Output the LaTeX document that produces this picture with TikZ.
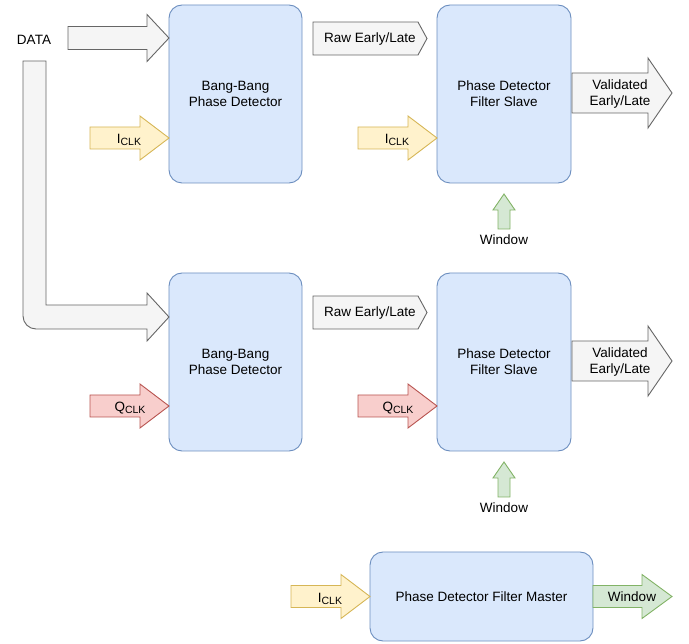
\documentclass[tikz,border=0pt]{standalone}
\usepackage{fontspec}
\setmainfont{Liberation Sans}
\definecolor{boxfill}{HTML}{DAE8FC}
\definecolor{boxdraw}{HTML}{6C8EBF}
\definecolor{grayfill}{HTML}{F5F5F5}
\definecolor{graydraw}{HTML}{666666}
\definecolor{yelfill}{HTML}{FFF2CC}
\definecolor{yeldraw}{HTML}{D6B656}
\definecolor{redfill}{HTML}{F8CECC}
\definecolor{reddraw}{HTML}{B85450}
\definecolor{grnfill}{HTML}{D5E8D4}
\definecolor{grndraw}{HTML}{82B366}
\newcommand{\clk}[1]{#1\raisebox{-0.35ex}{\fontsize{10.5}{12}\selectfont CLK}}
\tikzset{
  blockbox/.style={draw=boxdraw, fill=boxfill, rounded corners=13pt, line width=0.9pt, align=center, font=\fontsize{13.5}{16}\selectfont, inner sep=0pt},
  grayarrow/.style={draw=graydraw, fill=grayfill, line width=0.9pt, line join=miter},
  yelarrow/.style={draw=yeldraw, fill=yelfill, line width=0.9pt},
  redarrow/.style={draw=reddraw, fill=redfill, line width=0.9pt},
  grnarrow/.style={draw=grndraw, fill=grnfill, line width=0.9pt},
  lbl/.style={font=\fontsize{13.5}{16}\selectfont, align=center, inner sep=0pt},
}
% right block arrow: style, x1, x2, yc, body half, head half, head length
\newcommand{\rarrow}[7]{%
  \path[#1] (#2,#4-#5) -- (#3-#7,#4-#5) -- (#3-#7,#4-#6) -- (#3,#4) -- (#3-#7,#4+#6) -- (#3-#7,#4+#5) -- (#2,#4+#5) -- cycle;}
% up block arrow: style, xc, ytip, ybase, ybottom, head half, body half
\newcommand{\uarrow}[7]{%
  \path[#1] (#2,#3) -- (#2+#6,#4) -- (#2+#7,#4) -- (#2+#7,#5) -- (#2-#7,#5) -- (#2-#7,#4) -- (#2-#6,#4) -- cycle;}
\begin{document}
\begin{tikzpicture}[x=1pt,y=-1pt]
\useasboundingbox (0,0) rectangle (689,644);

% boxes
\node[blockbox, minimum width=133pt, minimum height=178pt] (bb1) at (235.5,94) {Bang-Bang\\Phase Detector};
\node[blockbox, minimum width=134pt, minimum height=178pt] (fs1) at (504,94) {Phase Detector\\Filter Slave};
\node[blockbox, minimum width=133pt, minimum height=178pt] (bb2) at (235.5,362) {Bang-Bang\\Phase Detector};
\node[blockbox, minimum width=134pt, minimum height=178pt] (fs2) at (504,362) {Phase Detector\\Filter Slave};
\node[blockbox, minimum width=223pt, minimum height=89pt] (fm) at (481.5,596.5) {Phase Detector Filter Master};

% DATA
\node[lbl] (data) at (34,40) {DATA};
\rarrow{grayarrow}{68}{169}{38}{11.5}{23.5}{22}
\path[grayarrow] (23,61) -- (46,61) -- (46,305) -- (147,305) -- (147,293) -- (169,317) -- (147,341) -- (147,329) -- (36,329) arc[start angle=90, end angle=180, radius=13] -- cycle;

% clock inputs
\rarrow{yelarrow}{90}{169}{138}{11}{22}{29}
\node[lbl] (iclk1) at (129,140) {\clk{I}};
\rarrow{yelarrow}{358}{437}{138}{11}{22}{29}
\node[lbl] (iclk2) at (397,140) {\clk{I}};
\rarrow{redarrow}{90}{169}{406}{11}{22}{29}
\node[lbl] (qclk1) at (130,408) {\clk{Q}};
\rarrow{redarrow}{358}{437}{406}{11}{22}{29}
\node[lbl] (qclk2) at (398,408) {\clk{Q}};
\rarrow{yelarrow}{291}{370}{596.5}{11}{22}{29}
\node[lbl] (iclk3) at (330,599) {\clk{I}};

% raw early/late
\path[grayarrow] (313,22) -- (418,22) -- (427,38.5) -- (418,55) -- (313,55) -- cycle;
\node[lbl] (raw1) at (370,39) {Raw Early/Late};
\path[grayarrow] (313,296) -- (418,296) -- (427,312.5) -- (418,329) -- (313,329) -- cycle;
\node[lbl] (raw2) at (370,313) {Raw Early/Late};

% validated
\rarrow{grayarrow}{572}{672}{93}{20}{35}{24}
\node[lbl] (val1) at (620,94) {Validated\\Early/Late};
\rarrow{grayarrow}{572}{672}{361}{20}{35}{24}
\node[lbl] (val2) at (620,362) {Validated\\Early/Late};

% window
\uarrow{grnarrow}{504}{194}{210}{229}{11}{6}
\node[lbl] (w1) at (504,240) {Window};
\uarrow{grnarrow}{504}{462}{478}{497}{11}{6}
\node[lbl] (w2) at (504,508) {Window};
\rarrow{grnarrow}{593}{672}{596.5}{11}{22}{30}
\node[lbl] (w3) at (632,597) {Window};
\end{tikzpicture}
\end{document}
